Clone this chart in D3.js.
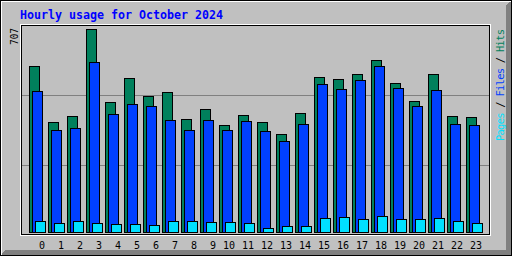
<!DOCTYPE html>
<html><head><meta charset="utf-8">
<script src="https://cdn.jsdelivr.net/npm/d3@7"></script>
<style>html,body{margin:0;padding:0;background:#fff;}svg{display:block;}</style>
</head><body>
<script>
const title = "Hourly usage for October 2024";
const hours = d3.range(0, 24);
const hourLabels = hours.map(String);
const hits  = [578,383,404,707,453,536,474,488,394,428,373,407,383,341,414,540,533,550,599,519,456,550,404,400];
const files = [491,355,362,592,411,446,439,390,355,390,355,387,352,317,376,515,498,529,578,502,439,495,376,373];
const pages = [38,31,38,31,28,28,24,38,38,35,35,31,14,21,21,49,52,45,56,45,45,49,38,31];
const maxLabel = "707";
const legendParts = [["Pages","#00E0FF"],[" / ","#000000"],["Files","#0040FF"],[" / ","#000000"],["Hits","#00805C"]];

const W = 512, H = 256;
const svg = d3.select("body").append("svg").attr("width", W).attr("height", H)
  .attr("shape-rendering", "crispEdges");

// background
svg.append("rect").attr("x",0).attr("y",0).attr("width",W).attr("height",H).attr("fill","#C0C0C0");
// bevel: dark grey bottom/right
for (let i = 1; i <= 5; i++) {
  svg.append("line").attr("x1", i).attr("x2", W - i).attr("y1", H - i - 0.5).attr("y2", H - i - 0.5).attr("stroke","#808080");
  svg.append("line").attr("x1", W - i - 0.5).attr("x2", W - i - 0.5).attr("y1", i).attr("y2", H - i).attr("stroke","#808080");
}
// white top/left
svg.append("line").attr("x1",1).attr("x2",W-1).attr("y1",1.5).attr("y2",1.5).attr("stroke","#fff");
svg.append("line").attr("x1",1.5).attr("x2",1.5).attr("y1",1).attr("y2",H-1).attr("stroke","#fff");
// black border
svg.append("rect").attr("x",0.5).attr("y",0.5).attr("width",W-1).attr("height",H-1).attr("fill","none").attr("stroke","#000");

// title
svg.append("text").attr("x",20).attr("y",19).text(title)
  .attr("font-family","'DejaVu Sans Mono', monospace").attr("font-weight","bold")
  .attr("font-size","11.5px").attr("fill","#0000FF")
  .attr("textLength",203).attr("lengthAdjust","spacingAndGlyphs");

// plot frame
svg.append("rect").attr("x",20.5).attr("y",24.5).attr("width",470).attr("height",211).attr("fill","none").attr("stroke","#fff");
svg.append("rect").attr("x",21.5).attr("y",25.5).attr("width",468).attr("height",209).attr("fill","none").attr("stroke","#000");

// scales
const x = d3.scaleLinear().domain([0, 24]).range([29, 29 + 19 * 24]);
const y = d3.scaleLinear().domain([0, 707]).range([232, 29]);

// grid lines
const gridY = [95, 165];
svg.selectAll("line.grid").data(gridY).enter().append("line").attr("class","grid")
  .attr("x1",22).attr("x2",489).attr("y1",d=>d+0.5).attr("y2",d=>d+0.5).attr("stroke","#808080");

// bars
const series = [
  {vals: hits, color: "#00805C", off: 0},
  {vals: files, color: "#0040FF", off: 3},
  {vals: pages, color: "#00E0FF", off: 6}
];
series.forEach(s => {
  svg.append("g").selectAll("rect").data(hours).enter().append("rect")
    .attr("x", h => Math.round(x(h)) + s.off + 0.5)
    .attr("y", h => Math.round(y(s.vals[h])) + 0.5)
    .attr("width", 10)
    .attr("height", h => 232 - Math.round(y(s.vals[h])))
    .attr("fill", s.color).attr("stroke", "#000");
});

// hour labels
svg.append("g").selectAll("text").data(hours).enter().append("text")
  .attr("x", h => Math.round(x(h)) + 16).attr("y", 249)
  .attr("text-anchor","end")
  .attr("font-family","'DejaVu Sans Mono', monospace").attr("font-size","10px").attr("fill","#000")
  .text(h => hourLabels[h]);

// max label
svg.append("text").attr("transform","translate(18,45) rotate(-90)")
  .attr("font-family","'DejaVu Sans Mono', monospace").attr("font-size","10px").attr("fill","#000")
  .attr("textLength",17).attr("lengthAdjust","spacingAndGlyphs")
  .text(maxLabel);

// legend
const leg = svg.append("text").attr("transform","translate(504,141) rotate(-90)")
  .attr("font-family","'DejaVu Sans Mono', monospace").attr("font-size","10.5px")
  .attr("textLength",112).attr("lengthAdjust","spacing").attr("xml:space","preserve");
legendParts.forEach(p => leg.append("tspan").attr("fill", p[1]).text(p[0]));
</script>
</body></html>
